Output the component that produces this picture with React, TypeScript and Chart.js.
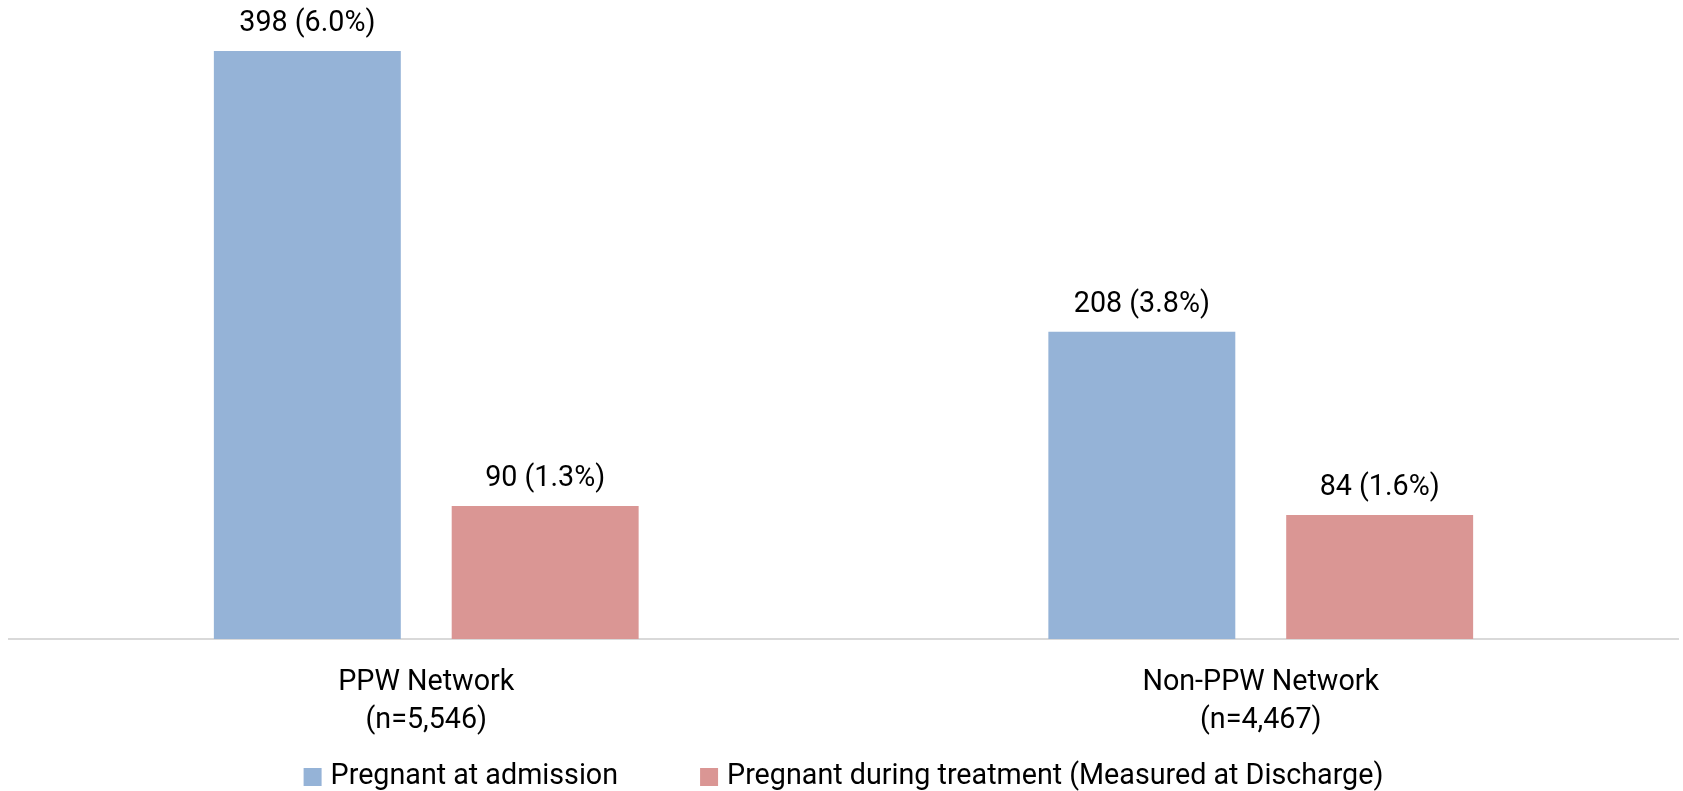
import React, { useEffect, useRef } from "react";
import { Chart, registerables } from "chart.js";

Chart.register(...registerables);

const categories: string[][] = [["PPW Network", "(n=5,546)"], ["Non-PPW Network", "(n=4,467)"]];
const seriesNames: string[] = ["Pregnant at admission", "Pregnant during treatment (Measured at Discharge)"];
const admissionCounts: number[] = [398, 208];
const admissionPct: number[] = [6.0, 3.8];
const dischargeCounts: number[] = [90, 84];
const dischargePct: number[] = [1.3, 1.6];

const COLORS = ["#95B3D7", "#DA9694"];
const FONT = "Roboto";
const FS = 28.7;

const dataLabels = {
  id: "dataLabels",
  afterDatasetsDraw(chart: any) {
    const ctx = chart.ctx;
    const pcts = [admissionPct, dischargePct];
    ctx.save();
    ctx.font = `${FS}px ${FONT}`;
    ctx.fillStyle = "#000";
    ctx.textAlign = "center";
    ctx.textBaseline = "alphabetic";
    chart.data.datasets.forEach((ds: any, di: number) => {
      const meta = chart.getDatasetMeta(di);
      meta.data.forEach((bar: any, i: number) => {
        ctx.fillText(`${ds.data[i]} (${pcts[di][i].toFixed(1)}%)`, bar.x, bar.y - 20);
      });
    });
    ctx.restore();
  },
};

const customLegend = {
  id: "customLegend",
  afterDraw(chart: any) {
    const ctx = chart.ctx;
    ctx.save();
    ctx.font = `${FS}px ${FONT}`;
    const box = 18, gap = 9, itemGap = 82;
    const widths = seriesNames.map((t) => ctx.measureText(t).width);
    const total = widths.reduce((a, w) => a + box + gap + w, 0) + itemGap * (seriesNames.length - 1);
    const cx = (chart.chartArea.left + chart.chartArea.right) / 2;
    let x = cx - total / 2;
    const yc = 777;
    ctx.textBaseline = "middle";
    ctx.textAlign = "left";
    seriesNames.forEach((t, i) => {
      ctx.fillStyle = COLORS[i];
      ctx.fillRect(x, yc - box / 2, box, box);
      x += box + gap;
      ctx.fillStyle = "#000";
      ctx.fillText(t, x, yc);
      x += widths[i] + itemGap;
    });
    ctx.restore();
  },
};

export default function App() {
  const ref = useRef<HTMLCanvasElement>(null);
  useEffect(() => {
    document.body.style.margin = "0";
    const chart = new Chart(ref.current!, {
      type: "bar",
      data: {
        labels: categories,
        datasets: [
          { label: seriesNames[0], data: admissionCounts, backgroundColor: COLORS[0] },
          { label: seriesNames[1], data: dischargeCounts, backgroundColor: COLORS[1] },
        ],
      },
      options: {
        animation: false,
        responsive: false,
        maintainAspectRatio: false,
        layout: { padding: { left: 9, right: 5, top: 48, bottom: 0 } },
        datasets: { bar: { categoryPercentage: 0.57, barPercentage: 0.786 } },
        plugins: { legend: { display: false }, tooltip: { enabled: false } },
        scales: {
          y: { display: false, min: 0, max: 400 },
          x: {
            grid: { display: false },
            border: { color: "#D9D9D9", width: 2 },
            ticks: { color: "#000", font: { family: FONT, size: FS, lineHeight: 1.31 }, padding: 17, maxRotation: 0 },
            afterFit(scale: any) { scale.height = 152; },
          },
        },
      },
      plugins: [dataLabels, customLegend],
    });
    return () => chart.destroy();
  }, []);
  return (
    <div style={{ width: 1683, height: 791 }}>
      <canvas ref={ref} width={1683} height={791} style={{ display: "block" }} />
    </div>
  );
}
